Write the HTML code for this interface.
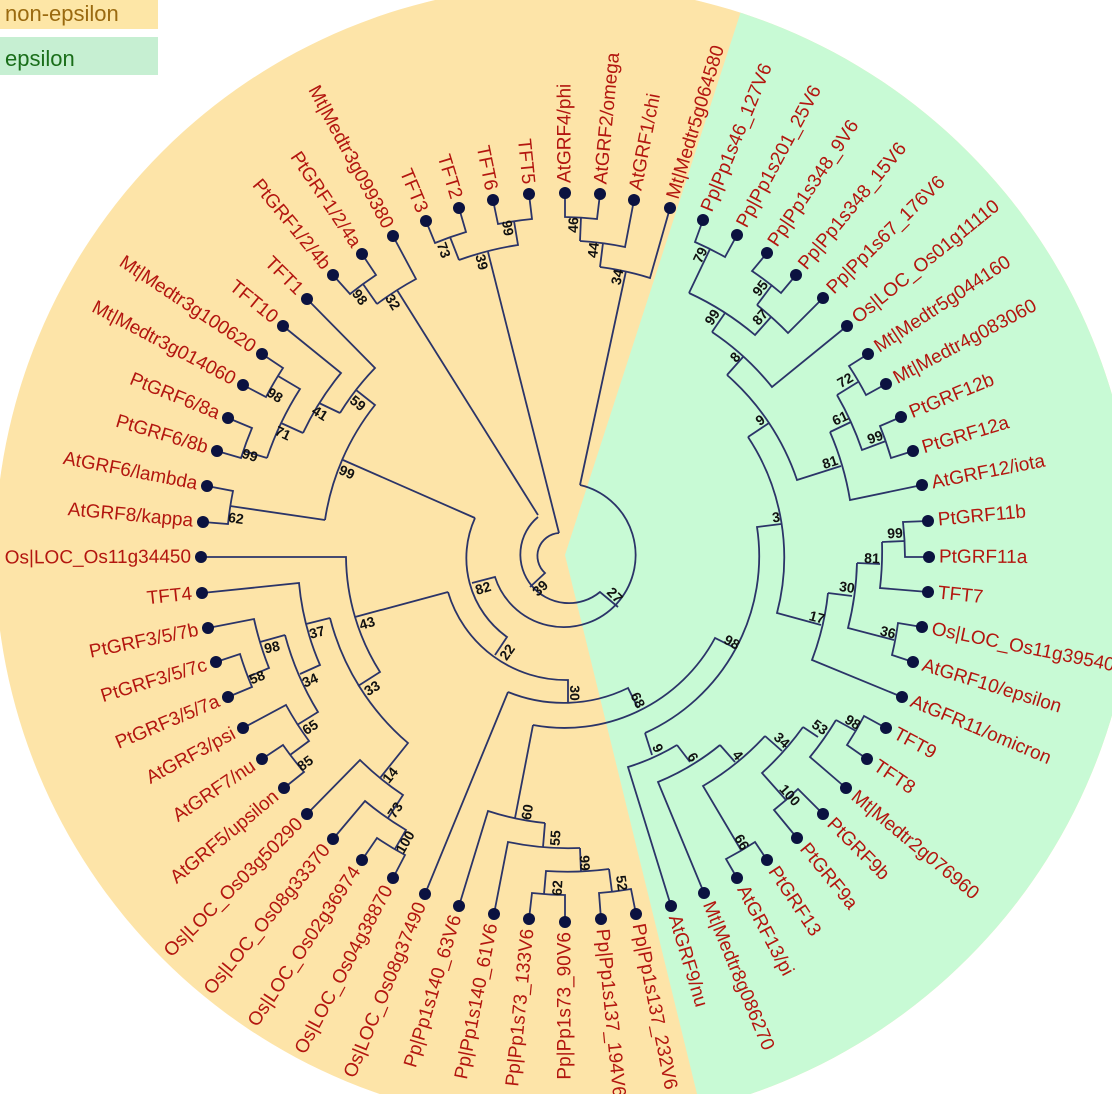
<!DOCTYPE html>
<html><head><meta charset="utf-8"><style>
html,body{margin:0;padding:0;background:#fff;width:1112px;height:1094px;overflow:hidden}
svg{display:block}
.l{font-family:"Liberation Sans",sans-serif;font-size:19px;fill:#b3160f;dominant-baseline:central}
.e{text-anchor:end}
.n{font-family:"Liberation Sans",sans-serif;font-size:14px;font-weight:bold;fill:#111;text-anchor:middle;dominant-baseline:central}
.b{fill:none;stroke:#2b3468;stroke-width:1.8}
.d circle{fill:#0b1240}
</style></head><body>
<svg width="1112" height="1094" viewBox="0 0 1112 1094" xmlns="http://www.w3.org/2000/svg">
<defs><clipPath id="cc"><circle cx="565" cy="555" r="570"/></clipPath></defs>
<circle cx="565" cy="555" r="570" fill="#fde4a8"/>
<polygon clip-path="url(#cc)" points="565,555 777,-100 1300,-100 1300,1200 723,1200" fill="#c8fad5"/>
<rect x="0" y="0" width="158" height="29" fill="#fde6a6"/>
<text x="5" y="21" font-family="Liberation Sans,sans-serif" font-size="22" fill="#9a6a10">non-epsilon</text>
<rect x="0" y="37" width="158" height="38" fill="#c6efd2"/>
<text x="5" y="66" font-family="Liberation Sans,sans-serif" font-size="22" fill="#1a6e1a">epsilon</text>

<g class="b">
<path d="M559,533 A23 23 0 0 0 545,573 L530,587"/>
<path d="M559,533 L488,252"/>
<path d="M538,517 A48 48 0 1 0 600,592 L618,607"/>
<path d="M538,515 L397,290"/>
<path d="M580,485 A72 72 0 1 1 495,577 L472,583"/>
<path d="M580,485 L626,271"/>
<path d="M475,518 A97 97 0 0 0 507,637 L495,655"/>
<path d="M475,518 L343,460"/>
<path d="M448,592 A123 123 0 0 0 568,680 L568,702"/>
<path d="M448,592 L355,617"/>
<path d="M508,692 A147 147 0 0 0 628,688 L638,708"/>
<path d="M508,692 L425,894"/>
<path d="M533,725 A171 171 0 0 0 715,638 L735,648"/>
<path d="M645,733 A194 194 0 0 0 757,527 L781,524"/>
<path d="M645,733 L652,755"/>
<path d="M748,437 A218 218 0 0 1 777,613 L821,625"/>
<path d="M748,437 L769,423"/>
<path d="M727,375 A243 243 0 0 1 797,480 L841,466"/>
<path d="M727,375 L743,357"/>
<path d="M712,332 A266 266 0 0 1 772,387 L847,326"/>
<path d="M712,332 L725,313"/>
<path d="M689,293 A290 290 0 0 1 755,335 L771,317"/>
<path d="M689,293 L710,249"/>
<path d="M703,220 L695,242 A339 339 0 0 1 725,257 L737,235"/>
<path d="M757,305 A315 315 0 0 1 788,333 L823,298"/>
<path d="M757,305 L772,285"/>
<path d="M767,253 L752,271 A340 340 0 0 1 781,293 L796,275"/>
<path d="M830,432 A290 290 0 0 1 850,500 L922,485"/>
<path d="M830,432 L851,422"/>
<path d="M837,395 A315 315 0 0 1 862,450 L886,441"/>
<path d="M837,395 L858,382"/>
<path d="M868,354 L849,366 A341 341 0 0 1 866,395 L886,384"/>
<path d="M901,417 L880,426 A340 340 0 0 1 891,458 L913,451"/>
<path d="M828,593 A266 266 0 0 1 812,660 L902,697"/>
<path d="M828,593 L852,596"/>
<path d="M857,563 A292 292 0 0 1 848,628 L894,640"/>
<path d="M857,563 L880,564"/>
<path d="M882,542 A317 317 0 0 1 880,588 L928,592"/>
<path d="M882,542 L905,541"/>
<path d="M928,521 L903,522 A340 340 0 0 1 905,557 L929,557"/>
<path d="M922,627 L898,623 A340 340 0 0 1 892,655 L913,662"/>
<path d="M677,745 A219 219 0 0 1 628,767 L671,906"/>
<path d="M677,745 L690,762"/>
<path d="M720,745 A245 245 0 0 1 658,782 L704,893"/>
<path d="M720,745 L735,762"/>
<path d="M765,736 A269 269 0 0 1 703,786 L741,850"/>
<path d="M767,860 L755,842 A344 344 0 0 1 726,859 L737,878"/>
<path d="M765,736 L782,751"/>
<path d="M803,727 A294 294 0 0 1 762,773 L786,800"/>
<path d="M823,814 L798,789 A330 330 0 0 1 774,810 L797,838"/>
<path d="M803,727 L818,737"/>
<path d="M836,720 A317 317 0 0 1 810,757 L846,788"/>
<path d="M836,720 L856,731"/>
<path d="M886,728 L864,716 A340 340 0 0 1 847,745 L867,759"/>
<path d="M533,725 L515,818"/>
<path d="M545,823 A268 268 0 0 1 488,811 L459,906"/>
<path d="M545,823 L543,847"/>
<path d="M580,848 A293 293 0 0 1 508,842 L494,914"/>
<path d="M580,848 L581,872"/>
<path d="M609,869 A317 317 0 0 1 546,871 L544,894"/>
<path d="M609,869 L612,892"/>
<path d="M565,922 L565,895 A340 340 0 0 1 532,893 L529,919"/>
<path d="M636,914 L631,889 A340 340 0 0 1 599,893 L601,919"/>
<path d="M201,557 L346,557 A219 219 0 0 0 380,672 L358,686"/>
<path d="M330,618 A244 244 0 0 0 408,743 L380,778"/>
<path d="M330,618 L306,624"/>
<path d="M202,593 L299,583 A268 268 0 0 0 320,665 L300,674"/>
<path d="M285,635 A292 292 0 0 0 318,712 L297,725"/>
<path d="M285,635 L260,642"/>
<path d="M208,628 L254,619 A317 317 0 0 0 269,668 L248,677"/>
<path d="M216,662 L240,654 A340 340 0 0 0 252,687 L228,697"/>
<path d="M243,728 L286,705 A317 317 0 0 0 309,741 L290,755"/>
<path d="M262,759 L283,745 A340 340 0 0 0 304,772 L284,788"/>
<path d="M307,814 L360,760 A290 290 0 0 0 403,795 L388,818"/>
<path d="M333,839 L365,801 A317 317 0 0 0 406,830 L395,849"/>
<path d="M362,860 L377,838 A340 340 0 0 0 405,855 L393,878"/>
<path d="M325,520 A242 242 0 0 1 375,405 L356,390"/>
<path d="M325,520 L230,506"/>
<path d="M203,522 L228,524 A338 338 0 0 1 233,491 L207,486"/>
<path d="M340,413 A266 266 0 0 1 375,368 L307,299"/>
<path d="M340,413 L319,403"/>
<path d="M303,433 A289 289 0 0 1 341,373 L283,326"/>
<path d="M303,433 L281,423"/>
<path d="M267,458 A313 313 0 0 1 300,389 L278,376"/>
<path d="M267,458 L244,451"/>
<path d="M243,385 L266,397 A338 338 0 0 1 283,368 L262,354"/>
<path d="M217,451 L241,458 A338 338 0 0 1 252,428 L228,418"/>
<path d="M377,304 A314 314 0 0 1 416,279 L393,236"/>
<path d="M377,304 L363,284"/>
<path d="M333,275 L350,294 A338 338 0 0 1 376,275 L362,254"/>
<path d="M459,260 A313 313 0 0 1 518,245 L514,221"/>
<path d="M459,260 L450,237"/>
<path d="M426,221 L435,243 A338 338 0 0 1 466,232 L459,208"/>
<path d="M493,200 L498,224 A338 338 0 0 1 532,219 L529,194"/>
<path d="M600,267 A290 290 0 0 1 650,278 L670,208"/>
<path d="M600,267 L603,243"/>
<path d="M580,241 A314 314 0 0 1 625,247 L634,200"/>
<path d="M580,241 L581,217"/>
<path d="M565,193 L565,217 A338 338 0 0 1 597,219 L600,194"/>
</g>

<g class="d">
<circle cx="703" cy="220" r="6"/><circle cx="737" cy="235" r="6"/><circle cx="767" cy="253" r="6"/><circle cx="796" cy="275" r="6"/><circle cx="823" cy="298" r="6"/><circle cx="847" cy="326" r="6"/><circle cx="868" cy="354" r="6"/><circle cx="886" cy="384" r="6"/><circle cx="901" cy="417" r="6"/><circle cx="913" cy="451" r="6"/><circle cx="922" cy="485" r="6"/><circle cx="928" cy="521" r="6"/><circle cx="929" cy="557" r="6"/><circle cx="928" cy="592" r="6"/><circle cx="922" cy="627" r="6"/><circle cx="913" cy="662" r="6"/><circle cx="902" cy="697" r="6"/><circle cx="886" cy="728" r="6"/><circle cx="867" cy="759" r="6"/><circle cx="846" cy="788" r="6"/><circle cx="823" cy="814" r="6"/><circle cx="797" cy="838" r="6"/><circle cx="767" cy="860" r="6"/><circle cx="737" cy="878" r="6"/><circle cx="704" cy="893" r="6"/><circle cx="671" cy="906" r="6"/><circle cx="636" cy="914" r="6"/><circle cx="601" cy="919" r="6"/><circle cx="565" cy="922" r="6"/><circle cx="529" cy="919" r="6"/><circle cx="494" cy="914" r="6"/><circle cx="459" cy="906" r="6"/><circle cx="425" cy="894" r="6"/><circle cx="393" cy="878" r="6"/><circle cx="362" cy="860" r="6"/><circle cx="333" cy="839" r="6"/><circle cx="307" cy="814" r="6"/><circle cx="284" cy="788" r="6"/><circle cx="262" cy="759" r="6"/><circle cx="243" cy="728" r="6"/><circle cx="228" cy="697" r="6"/><circle cx="216" cy="662" r="6"/><circle cx="208" cy="628" r="6"/><circle cx="202" cy="593" r="6"/><circle cx="201" cy="557" r="6"/><circle cx="203" cy="522" r="6"/><circle cx="207" cy="486" r="6"/><circle cx="217" cy="451" r="6"/><circle cx="228" cy="418" r="6"/><circle cx="243" cy="385" r="6"/><circle cx="262" cy="354" r="6"/><circle cx="283" cy="326" r="6"/><circle cx="307" cy="299" r="6"/><circle cx="333" cy="275" r="6"/><circle cx="362" cy="254" r="6"/><circle cx="393" cy="236" r="6"/><circle cx="426" cy="221" r="6"/><circle cx="459" cy="208" r="6"/><circle cx="493" cy="200" r="6"/><circle cx="529" cy="194" r="6"/><circle cx="565" cy="193" r="6"/><circle cx="600" cy="194" r="6"/><circle cx="634" cy="200" r="6"/><circle cx="670" cy="208" r="6"/>
</g>

<text class="l" x="713" y="220" transform="rotate(-67.6 703 220)">Pp|Pp1s46_127V6</text>
<text class="l" x="747" y="235" transform="rotate(-61.7 737 235)">Pp|Pp1s201_25V6</text>
<text class="l" x="777" y="253" transform="rotate(-56.2 767 253)">Pp|Pp1s348_9V6</text>
<text class="l" x="806" y="275" transform="rotate(-50.5 796 275)">Pp|Pp1s348_15V6</text>
<text class="l" x="833" y="298" transform="rotate(-44.9 823 298)">Pp|Pp1s67_176V6</text>
<text class="l" x="857" y="326" transform="rotate(-39.1 847 326)">Os|LOC_Os01g11110</text>
<text class="l" x="878" y="354" transform="rotate(-33.6 868 354)">Mt|Medtr5g044160</text>
<text class="l" x="896" y="384" transform="rotate(-28 886 384)">Mt|Medtr4g083060</text>
<text class="l" x="911" y="417" transform="rotate(-22.3 901 417)">PtGRF12b</text>
<text class="l" x="923" y="451" transform="rotate(-16.6 913 451)">PtGRF12a</text>
<text class="l" x="932" y="485" transform="rotate(-11.1 922 485)">AtGRF12/iota</text>
<text class="l" x="938" y="521" transform="rotate(-5.35 928 521)">PtGRF11b</text>
<text class="l" x="939" y="557" transform="rotate(0.3 929 557)">PtGRF11a</text>
<text class="l" x="938" y="592" transform="rotate(5.8 928 592)">TFT7</text>
<text class="l" x="932" y="627" transform="rotate(11.4 922 627)">Os|LOC_Os11g39540</text>
<text class="l" x="923" y="662" transform="rotate(17.1 913 662)">AtGRF10/epsilon</text>
<text class="l" x="912" y="697" transform="rotate(22.8 902 697)">AtGFR11/omicron</text>
<text class="l" x="896" y="728" transform="rotate(28.3 886 728)">TFT9</text>
<text class="l" x="877" y="759" transform="rotate(34 867 759)">TFT8</text>
<text class="l" x="856" y="788" transform="rotate(39.7 846 788)">Mt|Medtr2g076960</text>
<text class="l" x="833" y="814" transform="rotate(45.1 823 814)">PtGRF9b</text>
<text class="l" x="807" y="838" transform="rotate(50.7 797 838)">PtGRF9a</text>
<text class="l" x="777" y="860" transform="rotate(56.5 767 860)">PtGRF13</text>
<text class="l" x="747" y="878" transform="rotate(62 737 878)">AtGRF13/pi</text>
<text class="l" x="714" y="893" transform="rotate(67.6 704 893)">Mt|Medtr8g086270</text>
<text class="l" x="681" y="906" transform="rotate(73.2 671 906)">AtGRF9/nu</text>
<text class="l" x="646" y="914" transform="rotate(78.8 636 914)">Pp|Pp1s137_232V6</text>
<text class="l" x="611" y="919" transform="rotate(84.3 601 919)">Pp|Pp1s137_194V6</text>
<text class="l" x="575" y="193" transform="rotate(-90 565 193)">AtGRF4/phi</text>
<text class="l" x="610" y="194" transform="rotate(-84.5 600 194)">AtGRF2/omega</text>
<text class="l" x="644" y="200" transform="rotate(-79 634 200)">AtGRF1/chi</text>
<text class="l" x="680" y="208" transform="rotate(-73.2 670 208)">Mt|Medtr5g064580</text>

<text class="l e" x="555" y="922" transform="rotate(-90 565 922)">Pp|Pp1s73_90V6</text>
<text class="l e" x="519" y="919" transform="rotate(-84.4 529 919)">Pp|Pp1s73_133V6</text>
<text class="l e" x="484" y="914" transform="rotate(-78.8 494 914)">Pp|Pp1s140_61V6</text>
<text class="l e" x="449" y="906" transform="rotate(-73.2 459 906)">Pp|Pp1s140_63V6</text>
<text class="l e" x="415" y="894" transform="rotate(-67.6 425 894)">Os|LOC_Os08g37490</text>
<text class="l e" x="383" y="878" transform="rotate(-62 393 878)">Os|LOC_Os04g38870</text>
<text class="l e" x="352" y="860" transform="rotate(-56.4 362 860)">Os|LOC_Os02g36974</text>
<text class="l e" x="323" y="839" transform="rotate(-50.8 333 839)">Os|LOC_Os08g33370</text>
<text class="l e" x="297" y="814" transform="rotate(-45.1 307 814)">Os|LOC_Os03g50290</text>
<text class="l e" x="274" y="788" transform="rotate(-39.7 284 788)">AtGRF5/upsilon</text>
<text class="l e" x="252" y="759" transform="rotate(-34 262 759)">AtGRF7/nu</text>
<text class="l e" x="233" y="728" transform="rotate(-28.3 243 728)">AtGRF3/psi</text>
<text class="l e" x="218" y="697" transform="rotate(-22.8 228 697)">PtGRF3/5/7a</text>
<text class="l e" x="206" y="662" transform="rotate(-17 216 662)">PtGRF3/5/7c</text>
<text class="l e" x="198" y="628" transform="rotate(-11.6 208 628)">PtGRF3/5/7b</text>
<text class="l e" x="192" y="593" transform="rotate(-6 202 593)">TFT4</text>
<text class="l e" x="191" y="557" transform="rotate(-0.3 201 557)">Os|LOC_Os11g34450</text>
<text class="l e" x="193" y="522" transform="rotate(5.2 203 522)">AtGRF8/kappa</text>
<text class="l e" x="197" y="486" transform="rotate(10.9 207 486)">AtGRF6/lambda</text>
<text class="l e" x="207" y="451" transform="rotate(16.6 217 451)">PtGRF6/8b</text>
<text class="l e" x="218" y="418" transform="rotate(22.1 228 418)">PtGRF6/8a</text>
<text class="l e" x="233" y="385" transform="rotate(27.8 243 385)">Mt|Medtr3g014060</text>
<text class="l e" x="252" y="354" transform="rotate(33.6 262 354)">Mt|Medtr3g100620</text>
<text class="l e" x="273" y="326" transform="rotate(39.1 283 326)">TFT10</text>
<text class="l e" x="297" y="299" transform="rotate(44.8 307 299)">TFT1</text>
<text class="l e" x="323" y="275" transform="rotate(50.4 333 275)">PtGRF1/2/4b</text>
<text class="l e" x="352" y="254" transform="rotate(56 362 254)">PtGRF1/2/4a</text>
<text class="l e" x="383" y="236" transform="rotate(61.7 393 236)">Mt|Medtr3g099380</text>
<text class="l e" x="416" y="221" transform="rotate(67.4 426 221)">TFT3</text>
<text class="l e" x="449" y="208" transform="rotate(73 459 208)">TFT2</text>
<text class="l e" x="483" y="200" transform="rotate(78.5 493 200)">TFT6</text>
<text class="l e" x="519" y="194" transform="rotate(84.3 529 194)">TFT5</text>

<text class="n" transform="translate(444,250) rotate(70)">73</text>
<text class="n" transform="translate(508,228) rotate(81)">99</text>
<text class="n" transform="translate(482,262) rotate(76)">39</text>
<text class="n" transform="translate(573,225) rotate(-88)">46</text>
<text class="n" transform="translate(593,250) rotate(-83)">44</text>
<text class="n" transform="translate(617,277) rotate(-78)">34</text>
<text class="n" transform="translate(360,297) rotate(53)">98</text>
<text class="n" transform="translate(393,302) rotate(58)">32</text>
<text class="n" transform="translate(358,403) rotate(38)">59</text>
<text class="n" transform="translate(320,413) rotate(32)">41</text>
<text class="n" transform="translate(275,395) rotate(32)">98</text>
<text class="n" transform="translate(283,433) rotate(25)">71</text>
<text class="n" transform="translate(250,455) rotate(18)">99</text>
<text class="n" transform="translate(347,472) rotate(23)">99</text>
<text class="n" transform="translate(236,518) rotate(8)">62</text>
<text class="n" transform="translate(367,623) rotate(-17)">43</text>
<text class="n" transform="translate(317,632) rotate(-15)">37</text>
<text class="n" transform="translate(272,647) rotate(-12)">98</text>
<text class="n" transform="translate(257,677) rotate(-21)">58</text>
<text class="n" transform="translate(310,680) rotate(-24)">34</text>
<text class="n" transform="translate(372,688) rotate(-32)">33</text>
<text class="n" transform="translate(310,727) rotate(-33)">65</text>
<text class="n" transform="translate(305,763) rotate(-36)">85</text>
<text class="n" transform="translate(390,775) rotate(-50)">14</text>
<text class="n" transform="translate(395,810) rotate(-56)">73</text>
<text class="n" transform="translate(405,842) rotate(-60)">100</text>
<text class="n" transform="translate(507,652) rotate(-55)">22</text>
<text class="n" transform="translate(575,693) rotate(90)">30</text>
<text class="n" transform="translate(638,700) rotate(64)">68</text>
<text class="n" transform="translate(527,812) rotate(-80)">60</text>
<text class="n" transform="translate(555,838) rotate(-86)">55</text>
<text class="n" transform="translate(585,863) rotate(87)">99</text>
<text class="n" transform="translate(557,888) rotate(-87)">62</text>
<text class="n" transform="translate(622,883) rotate(82)">52</text>
<text class="n" transform="translate(483,588) rotate(-17)">82</text>
<text class="n" transform="translate(540,588) rotate(-43)">39</text>
<text class="n" transform="translate(615,595) rotate(45)">27</text>
<text class="n" transform="translate(732,642) rotate(29)">98</text>
<text class="n" transform="translate(658,748) rotate(66)">9</text>
<text class="n" transform="translate(693,757) rotate(58)">6</text>
<text class="n" transform="translate(738,755) rotate(50)">4</text>
<text class="n" transform="translate(782,740) rotate(42)">34</text>
<text class="n" transform="translate(820,727) rotate(36)">53</text>
<text class="n" transform="translate(853,722) rotate(31)">98</text>
<text class="n" transform="translate(790,795) rotate(48)">100</text>
<text class="n" transform="translate(742,842) rotate(59)">66</text>
<text class="n" transform="translate(776,517) rotate(-8)">3</text>
<text class="n" transform="translate(817,617) rotate(15)">17</text>
<text class="n" transform="translate(847,587) rotate(8)">30</text>
<text class="n" transform="translate(872,558) rotate(2)">81</text>
<text class="n" transform="translate(895,533) rotate(-3)">99</text>
<text class="n" transform="translate(888,632) rotate(14)">36</text>
<text class="n" transform="translate(700,255) rotate(-65)">79</text>
<text class="n" transform="translate(760,288) rotate(-52)">95</text>
<text class="n" transform="translate(760,317) rotate(-49)">87</text>
<text class="n" transform="translate(712,317) rotate(-57)">99</text>
<text class="n" transform="translate(735,357) rotate(-48)">8</text>
<text class="n" transform="translate(760,420) rotate(-33)">9</text>
<text class="n" transform="translate(830,462) rotate(-18)">81</text>
<text class="n" transform="translate(840,418) rotate(-25)">61</text>
<text class="n" transform="translate(845,380) rotate(-30)">72</text>
<text class="n" transform="translate(875,437) rotate(-20)">99</text>
</svg>
</body></html>
